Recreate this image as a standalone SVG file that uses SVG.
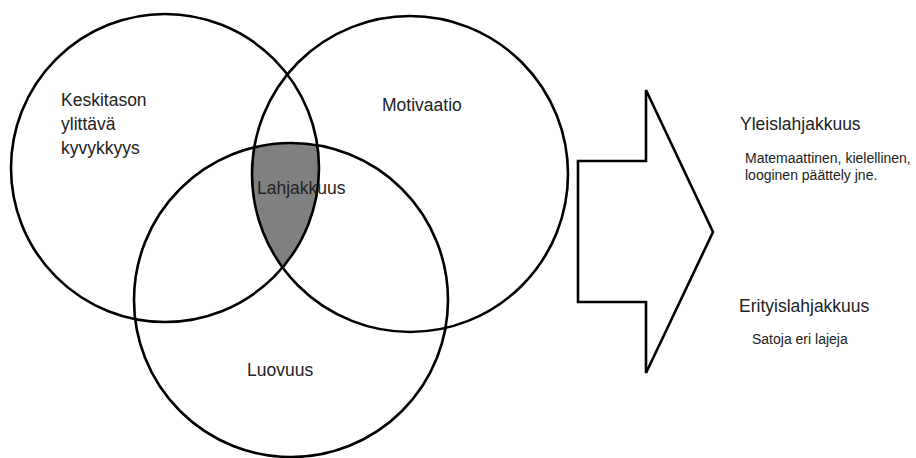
<svg xmlns="http://www.w3.org/2000/svg" width="916" height="458" viewBox="0 0 916 458">
<style>
.c{fill:none;stroke:#000;stroke-width:2.6}
.t{font-family:"Liberation Sans",Arial,sans-serif;fill:#222;font-size:17.5px}
.s{font-family:"Liberation Sans",Arial,sans-serif;fill:#222;font-size:14px}
</style>
<defs>
<clipPath id="cA"><circle cx="165" cy="168" r="154"/></clipPath>
<clipPath id="cB"><circle cx="410" cy="174" r="158"/></clipPath>
</defs>
<rect width="916" height="458" fill="#fff"/>
<g id="shade" clip-path="url(#cA)"><g clip-path="url(#cB)"><circle cx="291" cy="300" r="157" fill="#808080"/></g></g>
<g id="kyvykkyys"><circle class="c" cx="165" cy="168" r="154"/>
<text class="t" x="61" y="106">Keskitason</text><text class="t" x="61" y="130">ylittävä</text><text class="t" x="61" y="154">kyvykkyys</text></g>
<g id="motivaatio"><circle class="c" cx="410" cy="174" r="158"/><text class="t" x="382" y="111">Motivaatio</text></g>
<g id="luovuus"><circle class="c" cx="291" cy="300" r="157"/><text class="t" x="247" y="376">Luovuus</text></g>
<g id="lahjakkuus"><text class="t" x="257" y="194">Lahjakkuus</text></g>
<g id="connectors"><polygon class="c" stroke-linejoin="miter" points="578,161 646,161 646,90 713,232 646,373 646,302 578,302"/></g>
<g id="yleis"><text class="t" x="740" y="130">Yleislahjakkuus</text>
<text class="s" x="745" y="163">Matemaattinen, kielellinen,</text><text class="s" x="745" y="180">looginen päättely jne.</text></g>
<g id="erityis"><text class="t" x="739" y="312">Erityislahjakkuus</text><text class="s" x="752" y="344">Satoja eri lajeja</text></g>
</svg>
